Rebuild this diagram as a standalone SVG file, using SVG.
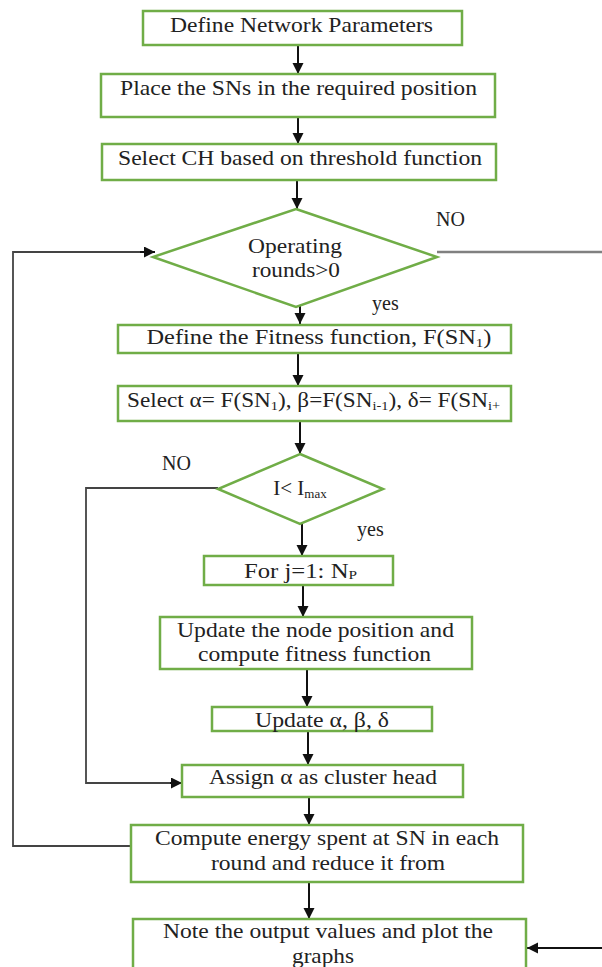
<svg xmlns="http://www.w3.org/2000/svg" width="602" height="967" viewBox="0 0 602 967">
<style>
.box{fill:#fff;stroke:#70AD47;stroke-width:2.5}
.t{font-family:"Liberation Serif","Times New Roman",serif;font-size:21px;fill:#222;text-anchor:middle}
.l{font-family:"Liberation Serif","Times New Roman",serif;font-size:20px;fill:#222}
.sub{font-size:13px}
.arr{stroke:#111;stroke-width:2;fill:none;marker-end:url(#ah)}
.loop{stroke:#444;stroke-width:1.8;fill:none}
</style>
<defs>
<marker id="ah" markerUnits="userSpaceOnUse" markerWidth="12" markerHeight="12" refX="11" refY="5.5" orient="auto">
<path d="M0,0 L11,5.5 L0,11 z" fill="#111"/>
</marker>
</defs>
<rect width="602" height="967" fill="#fff"/>
<g id="connectors">
<line class="arr" x1="298" y1="45" x2="298" y2="74"/>
<line class="arr" x1="298" y1="117" x2="298" y2="144"/>
<line class="arr" x1="297" y1="180" x2="297" y2="209"/>
<line class="arr" x1="300" y1="293" x2="300" y2="324"/>
<line class="arr" x1="298" y1="353" x2="298" y2="386"/>
<line class="arr" x1="300" y1="421" x2="300" y2="454"/>
<line class="arr" x1="302" y1="524" x2="302" y2="556"/>
<line class="arr" x1="303" y1="585" x2="303" y2="617"/>
<line class="arr" x1="307" y1="669" x2="307" y2="707"/>
<line class="arr" x1="308" y1="731" x2="308" y2="765"/>
<line class="arr" x1="309" y1="797" x2="309" y2="825"/>
<line class="arr" x1="309" y1="882" x2="309" y2="919"/>
<polyline class="loop" points="131,846 13,846 13,252 145,252"/>
<line class="arr" x1="140" y1="252" x2="155" y2="252"/>
<line x1="437" y1="252" x2="602" y2="252" stroke="#808080" stroke-width="2.5"/>
<polyline class="loop" points="218,488 86,488 86,783 172,783" stroke="#222"/>
<line class="arr" x1="170" y1="783" x2="182" y2="783"/>
<line class="arr" x1="602" y1="948" x2="527" y2="948"/>
<text class="l" x="436" y="226">NO</text>
<text class="l" x="372" y="310">yes</text>
<text class="l" x="162" y="470">NO</text>
<text class="l" x="357" y="536">yes</text>
</g>
<g id="n1"><rect class="box" x="143" y="11" width="319" height="34"/>
<text class="t" x="301.5" y="32" textLength="263" lengthAdjust="spacingAndGlyphs">Define Network Parameters</text></g>
<g id="n2"><rect class="box" x="101" y="74" width="394" height="43"/>
<text class="t" x="298.5" y="95" textLength="357" lengthAdjust="spacingAndGlyphs">Place the SNs in the required position</text></g>
<g id="n3"><rect class="box" x="102" y="144" width="394" height="36"/>
<text class="t" x="300" y="165" textLength="364" lengthAdjust="spacingAndGlyphs">Select CH based on threshold function</text></g>
<g id="n4"><polygon class="box" points="296,209 437,257 296,307 153,257"/>
<text class="t" x="295" y="253" textLength="94" lengthAdjust="spacingAndGlyphs">Operating</text>
<text class="t" x="296" y="277" textLength="88" lengthAdjust="spacingAndGlyphs">rounds&gt;0</text></g>
<g id="n5"><rect class="box" x="118" y="325" width="393" height="28"/>
<text class="t" x="319" y="344" textLength="345" lengthAdjust="spacingAndGlyphs">Define the Fitness function, F(SN<tspan class="sub" dy="3">1</tspan><tspan dy="-3">)</tspan></text></g>
<g id="n6"><rect class="box" x="118" y="386" width="393" height="35"/>
<text class="t" x="313.5" y="407" textLength="373" lengthAdjust="spacingAndGlyphs">Select α= F(SN<tspan class="sub" dy="3">1</tspan><tspan dy="-3">), β=F(SN</tspan><tspan class="sub" dy="3">i-1</tspan><tspan dy="-3">), δ= F(SN</tspan><tspan class="sub" dy="3">i+</tspan></text></g>
<g id="n7"><polygon class="box" points="300,454 383,489 300,524 218,489"/>
<text class="t" x="300" y="495">I&lt; I<tspan class="sub" dy="3">max</tspan></text></g>
<g id="n8"><rect class="box" x="204" y="556" width="189" height="29"/>
<text class="t" x="300.5" y="578" textLength="113" lengthAdjust="spacingAndGlyphs">For j=1: N<tspan class="sub" dy="1">P</tspan></text></g>
<g id="n9"><rect class="box" x="160" y="617" width="312" height="52"/>
<text class="t" x="315.5" y="637" textLength="277" lengthAdjust="spacingAndGlyphs">Update the node position and</text>
<text class="t" x="314.5" y="661" textLength="233" lengthAdjust="spacingAndGlyphs">compute fitness function</text></g>
<g id="n10"><rect class="box" x="212" y="707" width="220" height="24"/>
<text class="t" x="322" y="727" textLength="134" lengthAdjust="spacingAndGlyphs">Update α, β, δ</text></g>
<g id="n11"><rect class="box" x="182" y="765" width="281" height="32"/>
<text class="t" x="323" y="784" textLength="228" lengthAdjust="spacingAndGlyphs">Assign α as cluster head</text></g>
<g id="n12"><rect class="box" x="131" y="825" width="392" height="57"/>
<text class="t" x="327" y="845" textLength="344" lengthAdjust="spacingAndGlyphs">Compute energy spent at SN in each</text>
<text class="t" x="328" y="870" textLength="234" lengthAdjust="spacingAndGlyphs">round and reduce it from</text></g>
<g id="n13"><rect class="box" x="133" y="919" width="393" height="60"/>
<text class="t" x="328" y="938" textLength="330" lengthAdjust="spacingAndGlyphs">Note the output values and plot the</text>
<text class="t" x="323" y="963" textLength="62" lengthAdjust="spacingAndGlyphs">graphs</text></g>
</svg>
